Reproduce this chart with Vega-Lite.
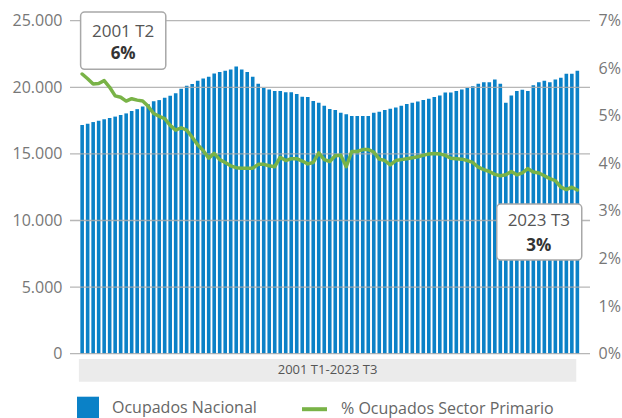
{
  "$schema": "https://vega.github.io/schema/vega-lite/v6.json",
  "width": 520,
  "height": 333,
  "autosize": {"type": "none"},
  "padding": {"left": 70, "top": 20.7, "right": 32, "bottom": 64.3},
  "config": {
    "view": {"stroke": null},
    "font": "Open Sans",
    "axis": {"labelFont": "Open Sans", "labelFontSize": 16, "labelColor": "#777777", "ticks": false, "domain": false, "grid": false, "title": null, "labelFlush": false}
  },
  "datasets": {
    "serie": [
      {"i": 1, "periodo": "2001 T1", "ocupados": 17170, "pct": 5.88},
      {"i": 2, "periodo": "2001 T2", "ocupados": 17260, "pct": 5.78},
      {"i": 3, "periodo": "2001 T3", "ocupados": 17390, "pct": 5.67},
      {"i": 4, "periodo": "2001 T4", "ocupados": 17490, "pct": 5.68},
      {"i": 5, "periodo": "2002 T1", "ocupados": 17600, "pct": 5.74},
      {"i": 6, "periodo": "2002 T2", "ocupados": 17690, "pct": 5.60},
      {"i": 7, "periodo": "2002 T3", "ocupados": 17800, "pct": 5.42},
      {"i": 8, "periodo": "2002 T4", "ocupados": 17920, "pct": 5.39},
      {"i": 9, "periodo": "2003 T1", "ocupados": 18040, "pct": 5.31},
      {"i": 10, "periodo": "2003 T2", "ocupados": 18220, "pct": 5.36},
      {"i": 11, "periodo": "2003 T3", "ocupados": 18360, "pct": 5.33},
      {"i": 12, "periodo": "2003 T4", "ocupados": 18550, "pct": 5.31},
      {"i": 13, "periodo": "2004 T1", "ocupados": 18720, "pct": 5.20},
      {"i": 14, "periodo": "2004 T2", "ocupados": 18950, "pct": 5.05},
      {"i": 15, "periodo": "2004 T3", "ocupados": 19040, "pct": 4.99},
      {"i": 16, "periodo": "2004 T4", "ocupados": 19220, "pct": 4.94},
      {"i": 17, "periodo": "2005 T1", "ocupados": 19360, "pct": 4.80},
      {"i": 18, "periodo": "2005 T2", "ocupados": 19550, "pct": 4.70},
      {"i": 19, "periodo": "2005 T3", "ocupados": 19900, "pct": 4.75},
      {"i": 20, "periodo": "2005 T4", "ocupados": 20120, "pct": 4.70},
      {"i": 21, "periodo": "2006 T1", "ocupados": 20240, "pct": 4.55},
      {"i": 22, "periodo": "2006 T2", "ocupados": 20490, "pct": 4.39},
      {"i": 23, "periodo": "2006 T3", "ocupados": 20670, "pct": 4.27},
      {"i": 24, "periodo": "2006 T4", "ocupados": 20800, "pct": 4.11},
      {"i": 25, "periodo": "2007 T1", "ocupados": 21040, "pct": 4.21},
      {"i": 26, "periodo": "2007 T2", "ocupados": 21140, "pct": 4.08},
      {"i": 27, "periodo": "2007 T3", "ocupados": 21250, "pct": 4.02},
      {"i": 28, "periodo": "2007 T4", "ocupados": 21340, "pct": 3.95},
      {"i": 29, "periodo": "2008 T1", "ocupados": 21570, "pct": 3.91},
      {"i": 30, "periodo": "2008 T2", "ocupados": 21340, "pct": 3.90},
      {"i": 31, "periodo": "2008 T3", "ocupados": 21140, "pct": 3.90},
      {"i": 32, "periodo": "2008 T4", "ocupados": 20800, "pct": 3.90},
      {"i": 33, "periodo": "2009 T1", "ocupados": 20260, "pct": 3.98},
      {"i": 34, "periodo": "2009 T2", "ocupados": 19940, "pct": 3.98},
      {"i": 35, "periodo": "2009 T3", "ocupados": 19840, "pct": 3.95},
      {"i": 36, "periodo": "2009 T4", "ocupados": 19720, "pct": 3.93},
      {"i": 37, "periodo": "2010 T1", "ocupados": 19720, "pct": 4.13},
      {"i": 38, "periodo": "2010 T2", "ocupados": 19620, "pct": 4.06},
      {"i": 39, "periodo": "2010 T3", "ocupados": 19620, "pct": 4.10},
      {"i": 40, "periodo": "2010 T4", "ocupados": 19490, "pct": 4.10},
      {"i": 41, "periodo": "2011 T1", "ocupados": 19290, "pct": 4.05},
      {"i": 42, "periodo": "2011 T2", "ocupados": 19270, "pct": 3.99},
      {"i": 43, "periodo": "2011 T3", "ocupados": 18970, "pct": 4.02},
      {"i": 44, "periodo": "2011 T4", "ocupados": 18840, "pct": 4.22},
      {"i": 45, "periodo": "2012 T1", "ocupados": 18620, "pct": 4.08},
      {"i": 46, "periodo": "2012 T2", "ocupados": 18370, "pct": 4.04},
      {"i": 47, "periodo": "2012 T3", "ocupados": 18290, "pct": 4.16},
      {"i": 48, "periodo": "2012 T4", "ocupados": 18090, "pct": 4.17},
      {"i": 49, "periodo": "2013 T1", "ocupados": 17970, "pct": 3.93},
      {"i": 50, "periodo": "2013 T2", "ocupados": 17840, "pct": 4.25},
      {"i": 51, "periodo": "2013 T3", "ocupados": 17840, "pct": 4.25},
      {"i": 52, "periodo": "2013 T4", "ocupados": 17840, "pct": 4.29},
      {"i": 53, "periodo": "2014 T1", "ocupados": 17840, "pct": 4.29},
      {"i": 54, "periodo": "2014 T2", "ocupados": 18090, "pct": 4.24},
      {"i": 55, "periodo": "2014 T3", "ocupados": 18160, "pct": 4.09},
      {"i": 56, "periodo": "2014 T4", "ocupados": 18290, "pct": 4.06},
      {"i": 57, "periodo": "2015 T1", "ocupados": 18390, "pct": 3.97},
      {"i": 58, "periodo": "2015 T2", "ocupados": 18490, "pct": 4.06},
      {"i": 59, "periodo": "2015 T3", "ocupados": 18610, "pct": 4.08},
      {"i": 60, "periodo": "2015 T4", "ocupados": 18740, "pct": 4.10},
      {"i": 61, "periodo": "2016 T1", "ocupados": 18840, "pct": 4.12},
      {"i": 62, "periodo": "2016 T2", "ocupados": 18940, "pct": 4.14},
      {"i": 63, "periodo": "2016 T3", "ocupados": 19040, "pct": 4.17},
      {"i": 64, "periodo": "2016 T4", "ocupados": 19140, "pct": 4.20},
      {"i": 65, "periodo": "2017 T1", "ocupados": 19270, "pct": 4.21},
      {"i": 66, "periodo": "2017 T2", "ocupados": 19390, "pct": 4.20},
      {"i": 67, "periodo": "2017 T3", "ocupados": 19610, "pct": 4.17},
      {"i": 68, "periodo": "2017 T4", "ocupados": 19610, "pct": 4.11},
      {"i": 69, "periodo": "2018 T1", "ocupados": 19720, "pct": 4.10},
      {"i": 70, "periodo": "2018 T2", "ocupados": 19840, "pct": 4.09},
      {"i": 71, "periodo": "2018 T3", "ocupados": 19940, "pct": 4.06},
      {"i": 72, "periodo": "2018 T4", "ocupados": 20070, "pct": 4.02},
      {"i": 73, "periodo": "2019 T1", "ocupados": 20260, "pct": 3.92},
      {"i": 74, "periodo": "2019 T2", "ocupados": 20370, "pct": 3.87},
      {"i": 75, "periodo": "2019 T3", "ocupados": 20370, "pct": 3.83},
      {"i": 76, "periodo": "2019 T4", "ocupados": 20590, "pct": 3.77},
      {"i": 77, "periodo": "2020 T1", "ocupados": 20260, "pct": 3.74},
      {"i": 78, "periodo": "2020 T2", "ocupados": 18840, "pct": 3.76},
      {"i": 79, "periodo": "2020 T3", "ocupados": 19390, "pct": 3.83},
      {"i": 80, "periodo": "2020 T4", "ocupados": 19720, "pct": 3.76},
      {"i": 81, "periodo": "2021 T1", "ocupados": 19810, "pct": 3.80},
      {"i": 82, "periodo": "2021 T2", "ocupados": 19720, "pct": 3.89},
      {"i": 83, "periodo": "2021 T3", "ocupados": 20160, "pct": 3.82},
      {"i": 84, "periodo": "2021 T4", "ocupados": 20370, "pct": 3.80},
      {"i": 85, "periodo": "2022 T1", "ocupados": 20490, "pct": 3.74},
      {"i": 86, "periodo": "2022 T2", "ocupados": 20370, "pct": 3.68},
      {"i": 87, "periodo": "2022 T3", "ocupados": 20590, "pct": 3.64},
      {"i": 88, "periodo": "2022 T4", "ocupados": 20710, "pct": 3.50},
      {"i": 89, "periodo": "2023 T1", "ocupados": 21010, "pct": 3.45},
      {"i": 90, "periodo": "2023 T2", "ocupados": 21010, "pct": 3.50},
      {"i": 91, "periodo": "2023 T3", "ocupados": 21240, "pct": 3.44}
    ],
    "grid": [{"v": 0}, {"v": 5000}, {"v": 10000}, {"v": 15000}, {"v": 20000}, {"v": 25000}],
    "banda": [{"etiqueta": "2001 T1-2023 T3", "i0": 0.41, "i1": 90.8, "ic": 45.6, "v0": -400, "v1": -2100, "vc": -1260}],
    "notas": [
      {"periodo": "2001 T2", "valor": "6%", "x0": 0.72, "x1": 16.2, "xc": 8.45, "y0": 21350, "y1": 25650, "yt": 24170, "yv": 22500},
      {"periodo": "2023 T3", "valor": "3%", "x0": 76.35, "x1": 91.8, "xc": 84.0, "y0": 7030, "y1": 11240, "yt": 9990, "yv": 8090}
    ]
  },
  "layer": [
    {
      "data": {"name": "banda"},
      "mark": {"type": "rect", "fill": "#ebebeb"},
      "encoding": {
        "x": {"field": "i0", "type": "quantitative", "scale": {"domain": [-0.3, 92.39], "nice": false, "zero": false}, "axis": null},
        "x2": {"field": "i1"},
        "y": {"field": "v0", "type": "quantitative", "scale": {"domain": [0, 25000], "nice": false}, "axis": null},
        "y2": {"field": "v1"}
      }
    },
    {
      "data": {"name": "banda"},
      "mark": {"type": "text", "fontSize": 13, "color": "#555555", "font": "Open Sans", "baseline": "middle", "align": "center"},
      "encoding": {
        "x": {"field": "ic", "type": "quantitative", "scale": {"domain": [-0.3, 92.39], "nice": false, "zero": false}, "axis": null},
        "y": {"field": "vc", "type": "quantitative", "scale": {"domain": [0, 25000], "nice": false}, "axis": null},
        "text": {"field": "etiqueta"}
      }
    },
    {
      "data": {"name": "serie"},
      "mark": {"type": "bar", "orient": "vertical", "size": 3.6},
      "encoding": {
        "x": {"field": "i", "type": "quantitative", "scale": {"domain": [-0.3, 92.39], "nice": false, "zero": false}, "axis": null},
        "y": {"field": "ocupados", "type": "quantitative", "scale": {"domain": [0, 25000], "nice": false},
              "axis": {"orient": "left", "values": [0, 5000, 10000, 15000, 20000, 25000], "labelExpr": "replace(format(datum.value, ','), ',', '.')", "labelPadding": 8}},
        "fill": {"datum": "Ocupados Nacional", "scale": {"range": ["#0a81c7"]},
                 "legend": {"orient": "none", "legendX": 7, "legendY": 376, "title": null, "symbolType": "square", "symbolSize": 484, "symbolStrokeWidth": 0, "labelFontSize": 16, "labelColor": "#666666", "labelFont": "Open Sans", "labelOffset": 13, "labelLimit": 300, "padding": 0}}
      }
    },
    {
      "data": {"name": "grid"},
      "mark": {"type": "rule", "color": "#aaaaaa", "strokeWidth": 1.3, "opacity": 0.85},
      "encoding": {
        "y": {"field": "v", "type": "quantitative", "scale": {"domain": [0, 25000], "nice": false}, "axis": null}
      }
    },
    {
      "data": {"name": "serie"},
      "mark": {"type": "line", "strokeWidth": 3.5, "strokeJoin": "round", "strokeCap": "round"},
      "encoding": {
        "x": {"field": "i", "type": "quantitative", "scale": {"domain": [-0.3, 92.39], "nice": false, "zero": false}, "axis": null},
        "y": {"field": "pct", "type": "quantitative", "scale": {"domain": [0, 7], "nice": false},
              "axis": {"orient": "right", "values": [0, 1, 2, 3, 4, 5, 6, 7], "labelExpr": "datum.value + '%'", "labelPadding": 8}},
        "stroke": {"datum": "% Ocupados Sector Primario", "scale": {"range": ["#79b347"]},
                   "legend": {"orient": "none", "legendX": 230, "legendY": 374, "title": null, "symbolType": "stroke", "symbolSize": 625, "symbolStrokeWidth": 4, "labelFontSize": 16, "labelColor": "#666666", "labelFont": "Open Sans", "labelOffset": 12, "labelLimit": 300, "padding": 0}}
      }
    },
    {
      "data": {"name": "notas"},
      "mark": {"type": "rect", "fill": "#ffffff", "stroke": "#a8a8a8", "strokeWidth": 1.5, "cornerRadius": 4},
      "encoding": {
        "x": {"field": "x0", "type": "quantitative", "scale": {"domain": [-0.3, 92.39], "nice": false, "zero": false}, "axis": null},
        "x2": {"field": "x1"},
        "y": {"field": "y0", "type": "quantitative", "scale": {"domain": [0, 25000], "nice": false}, "axis": null},
        "y2": {"field": "y1"}
      }
    },
    {
      "data": {"name": "notas"},
      "mark": {"type": "text", "fontSize": 17, "color": "#555555", "font": "Open Sans", "baseline": "middle", "align": "center"},
      "encoding": {
        "x": {"field": "xc", "type": "quantitative", "scale": {"domain": [-0.3, 92.39], "nice": false, "zero": false}, "axis": null},
        "y": {"field": "yt", "type": "quantitative", "scale": {"domain": [0, 25000], "nice": false}, "axis": null},
        "text": {"field": "periodo"}
      }
    },
    {
      "data": {"name": "notas"},
      "mark": {"type": "text", "fontSize": 17, "fontWeight": "bold", "color": "#333333", "font": "Open Sans", "baseline": "middle", "align": "center"},
      "encoding": {
        "x": {"field": "xc", "type": "quantitative", "scale": {"domain": [-0.3, 92.39], "nice": false, "zero": false}, "axis": null},
        "y": {"field": "yv", "type": "quantitative", "scale": {"domain": [0, 25000], "nice": false}, "axis": null},
        "text": {"field": "valor"}
      }
    }
  ],
  "resolve": {"scale": {"y": "independent"}}
}
